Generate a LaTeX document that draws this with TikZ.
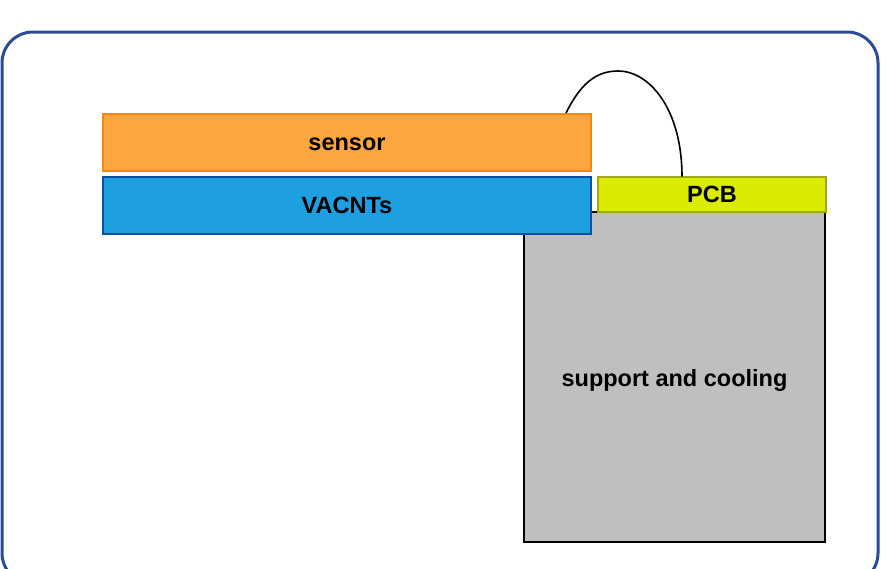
\documentclass[tikz,border=0pt]{standalone}
\usepackage{fontspec}
\setmainfont{Liberation Sans}
\definecolor{frameblue}{RGB}{43,74,152}
\definecolor{sensorfill}{RGB}{252,166,64}
\definecolor{sensorline}{RGB}{240,138,10}
\definecolor{cntfill}{RGB}{30,159,223}
\definecolor{cntline}{RGB}{10,80,160}
\definecolor{pcbfill}{RGB}{220,236,0}
\definecolor{pcbline}{RGB}{160,168,20}
\definecolor{supportfill}{RGB}{191,191,191}

\begin{document}
\begin{tikzpicture}
[x=1pt,y=-1pt,%
  every node/.style={shape=rectangle,inner sep=0pt,line width=2pt,%
    text height=16.8pt,text depth=0pt,%
    font=\fontsize{23.5}{28}\selectfont\bfseries},%
  layer/.style={minimum width=488pt,minimum height=57pt}]
\useasboundingbox (0,0) rectangle (891,568);
\clip (0,0) rectangle (891,568);
\draw[frameblue,line width=3pt,rounded corners=31pt] (2,32) rectangle (878,584);
%%
\node[draw=black,fill=supportfill,minimum width=301pt,minimum height=330pt]
  (support) at (674.5,376.5) {};
\node (supportlabel) at (674.5,378.5) {support and cooling};
\node[draw=pcbline,fill=pcbfill,minimum width=228pt,minimum height=35pt]
  (pcb) at (712,194.5) {PCB};
%%
\node[layer,draw=sensorline,fill=sensorfill] (sensor) at (347,142) {sensor};
\node[layer,draw=cntline,fill=cntfill] (vacnt) at (347,205.5) {VACNTs};
%%
\coordinate (bondA) at (566,113);
\coordinate (bondTop) at (618,71);
\coordinate (bondB) at (682,176.5);
\draw[line width=1.6pt]
  (bondA) .. controls (580,85) and (595,71) .. (bondTop)
  .. controls (650,71) and (682,110) .. (bondB);
\end{tikzpicture}
\end{document}
